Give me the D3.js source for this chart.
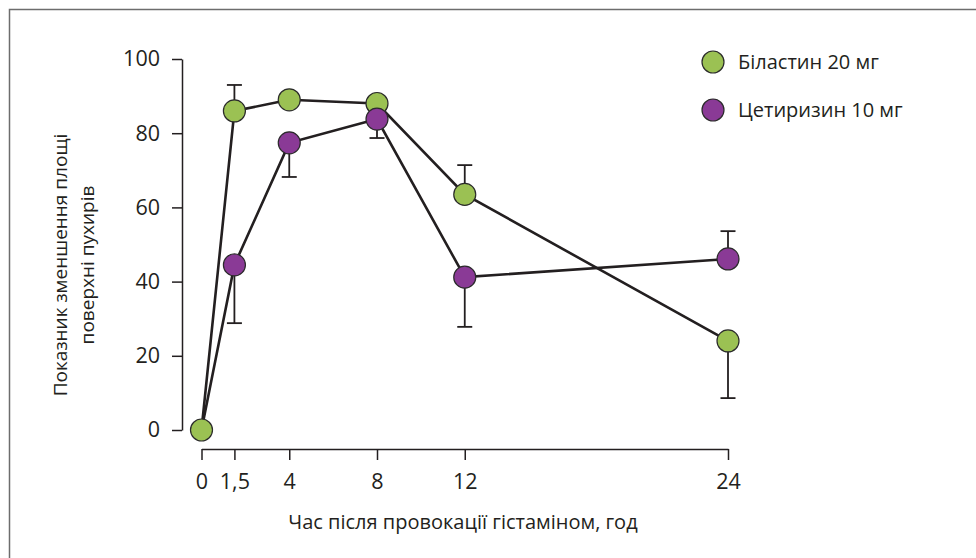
<!DOCTYPE html>
<html>
<head>
<meta charset="utf-8">
<script src="https://cdn.jsdelivr.net/npm/d3@7"></script>
<style>
  html, body { margin: 0; padding: 0; background: #fff; }
  svg { display: block; }
  text { font-family: "Open Sans", Lato, sans-serif; fill: #231f20; }
</style>
</head>
<body>
<svg id="chart" width="976" height="558"></svg>
<script>
// ---- data ----
const hours = [0, 1.5, 4, 8, 12, 24];
const tickLabels = ["0", "1,5", "4", "8", "12", "24"];
const yTicks = [0, 20, 40, 60, 80, 100];
const seriesNames = ["Біластин 20 мг", "Цетиризин 10 мг"];
const bilastine = [0, 86, 89, 88, 63.5, 24];
const cetirizine = [0, 44.5, 77.4, 83.8, 41.2, 46.1];
// error bar end values (null = none)
const bilastineErrEnd = [null, 93, null, null, 71.4, 8.6];
const cetirizineErrEnd = [null, 28.8, 68.2, 78.7, 27.8, 53.6];
const colors = ["#9bc153", "#8a3a96"];

const svg = d3.select("#chart");

// frame
svg.append("path")
  .attr("d", "M9.5,558 V9.5 H976")
  .attr("fill", "none").attr("stroke", "#6d6d6d").attr("stroke-width", 1.5);

const x = d3.scaleLinear().domain([0, 24]).range([201.5, 728]);
const y = d3.scaleLinear().domain([0, 100]).range([430, 59]);

const tickFont = "Open Sans, Lato, sans-serif";

// y axis
const yAxis = svg.append("g").attr("transform", "translate(182,0)")
  .call(d3.axisLeft(y).tickValues(yTicks).tickSize(10).tickSizeOuter(0).tickPadding(12));
yAxis.select(".domain").attr("stroke", "#231f20").attr("stroke-width", 1.5);
yAxis.selectAll(".tick line").attr("stroke", "#231f20").attr("stroke-width", 1.5);
yAxis.selectAll(".tick text").attr("font-size", 21.5).attr("font-family", tickFont).attr("fill", "#231f20");

// x axis
const xAxis = svg.append("g").attr("transform", "translate(0,449)")
  .call(d3.axisBottom(x).tickValues(hours).tickFormat((d, i) => tickLabels[i])
    .tickSize(11).tickSizeOuter(0).tickPadding(14));
xAxis.select(".domain").attr("stroke", "#231f20").attr("stroke-width", 1.5);
xAxis.selectAll(".tick line").attr("stroke", "#231f20").attr("stroke-width", 1.5);
xAxis.selectAll(".tick text").attr("font-size", 21.5).attr("font-family", tickFont).attr("fill", "#231f20");

// axis titles
svg.append("text")
  .attr("x", 463).attr("y", 529)
  .attr("text-anchor", "middle").attr("font-size", 20)
  .text("Час після провокації гістаміном, год");

const yt = svg.append("text")
  .attr("transform", "translate(67,265) rotate(-90)")
  .attr("text-anchor", "middle").attr("font-size", 19);
yt.append("tspan").attr("x", 0).attr("dy", 0).text("Показник зменшення площі");
yt.append("tspan").attr("x", 0).attr("dy", 27).text("поверхні пухирів");

const series = [
  { vals: bilastine, err: bilastineErrEnd, color: colors[0] },
  { vals: cetirizine, err: cetirizineErrEnd, color: colors[1] }
];

const line = d3.line().x((d, i) => x(hours[i])).y(d => y(d));

// error bars
series.forEach(s => {
  const g = svg.append("g");
  s.err.forEach((e, i) => {
    if (e === null) return;
    const cx = x(hours[i]);
    g.append("line").attr("x1", cx).attr("x2", cx)
      .attr("y1", y(s.vals[i])).attr("y2", y(e))
      .attr("stroke", "#231f20").attr("stroke-width", 1.8);
    g.append("line").attr("x1", cx - 7.5).attr("x2", cx + 7.5)
      .attr("y1", y(e)).attr("y2", y(e))
      .attr("stroke", "#231f20").attr("stroke-width", 1.8);
  });
});

// lines
series.forEach(s => {
  svg.append("path").attr("d", line(s.vals))
    .attr("fill", "none").attr("stroke", "#231f20").attr("stroke-width", 2.6);
});

// markers
svg.append("g").selectAll("circle")
  .data(bilastine.map((v, i) => ({ v, i })))
  .join("circle")
  .attr("cx", d => x(hours[d.i])).attr("cy", d => y(d.v)).attr("r", 11)
  .attr("fill", colors[0]).attr("stroke", "#2b2b2b").attr("stroke-width", 1.2);
svg.append("g").selectAll("circle")
  .data(cetirizine.map((v, i) => ({ v, i })).filter(d => d.i > 0))
  .join("circle")
  .attr("cx", d => x(hours[d.i])).attr("cy", d => y(d.v)).attr("r", 11)
  .attr("fill", colors[1]).attr("stroke", "#2b2b2b").attr("stroke-width", 1.2);

// legend
const legend = svg.append("g");
seriesNames.forEach((name, i) => {
  const ly = 62 + i * 48;
  legend.append("circle").attr("cx", 713).attr("cy", ly).attr("r", 11)
    .attr("fill", colors[i]).attr("stroke", "#2b2b2b").attr("stroke-width", 1.2);
  legend.append("text").attr("x", 738).attr("y", ly + 7)
    .attr("font-size", 20).text(name);
});
</script>
</body>
</html>
